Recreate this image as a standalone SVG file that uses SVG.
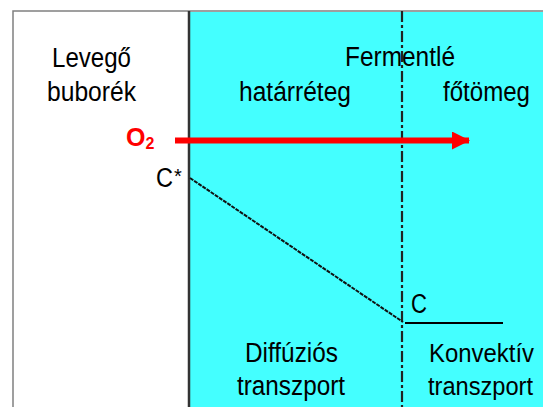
<svg xmlns="http://www.w3.org/2000/svg" width="543" height="407" viewBox="0 0 543 407">
<style>
.t{font-family:"Liberation Sans",Arial,sans-serif;font-size:27px;fill:#000}
.r{font-size:25px}
</style>
<defs>
<marker id="ah" markerUnits="userSpaceOnUse" markerWidth="18" markerHeight="18" refX="17" refY="9" orient="auto">
<path d="M0,0 L18,9 L0,18 Z" fill="#ff0000"/>
</marker>
</defs>
<rect x="0" y="0" width="543" height="407" fill="#ffffff"/>
<g id="bubble">
<rect x="13" y="11" width="177" height="396" fill="#ffffff"/>
<path d="M13,407 V11 H543" fill="none" stroke="#808080" stroke-width="1.5"/>
<text class="t" x="52" y="67" textLength="79" lengthAdjust="spacingAndGlyphs">Levegő</text>
<text class="t" x="47" y="101" textLength="89" lengthAdjust="spacingAndGlyphs">buborék</text>
</g>
<g id="broth">
<rect x="190" y="12" width="353" height="395" fill="#44ffff"/>
<text class="t" x="345" y="66" textLength="110" lengthAdjust="spacingAndGlyphs">Fermentlé</text>
<text class="t" x="239" y="101" textLength="112" lengthAdjust="spacingAndGlyphs">határréteg</text>
<text class="t" x="443" y="101" textLength="87" lengthAdjust="spacingAndGlyphs">főtömeg</text>
<text class="t" x="245" y="362" textLength="93" lengthAdjust="spacingAndGlyphs">Diffúziós</text>
<text class="t" x="237" y="395" textLength="108" lengthAdjust="spacingAndGlyphs">transzport</text>
<text class="t r" x="429" y="362" textLength="105" lengthAdjust="spacingAndGlyphs">Konvektív</text>
<text class="t r" x="428" y="395" textLength="105" lengthAdjust="spacingAndGlyphs">transzport</text>
</g>
<g id="connectors">
<line x1="189" y1="11" x2="189" y2="407" stroke="#333333" stroke-width="2.5"/>
<line x1="402" y1="11" x2="402" y2="407" stroke="#222222" stroke-width="2.2" stroke-dasharray="11 3 3 3"/>
<line x1="190" y1="178" x2="403" y2="322" stroke="#111111" stroke-width="2" stroke-dasharray="4 1"/>
<line x1="405" y1="323" x2="503" y2="323" stroke="#000000" stroke-width="2"/>
<line x1="175" y1="140.5" x2="469" y2="140.5" stroke="#ff0000" stroke-width="6" marker-end="url(#ah)"/>
</g>
<g id="labels">
<text x="126" y="146" font-family="Liberation Sans,Arial,sans-serif" font-size="25" font-weight="bold" fill="#ff0000">O<tspan font-size="16" dy="3">2</tspan></text>
<text class="t" x="156" y="187" textLength="17" lengthAdjust="spacingAndGlyphs">C</text>
<text x="174" y="183" font-family="Liberation Sans,Arial,sans-serif" font-size="20" fill="#000">*</text>
<text class="t" x="411" y="313" textLength="16" lengthAdjust="spacingAndGlyphs">C</text>
</g>
</svg>
